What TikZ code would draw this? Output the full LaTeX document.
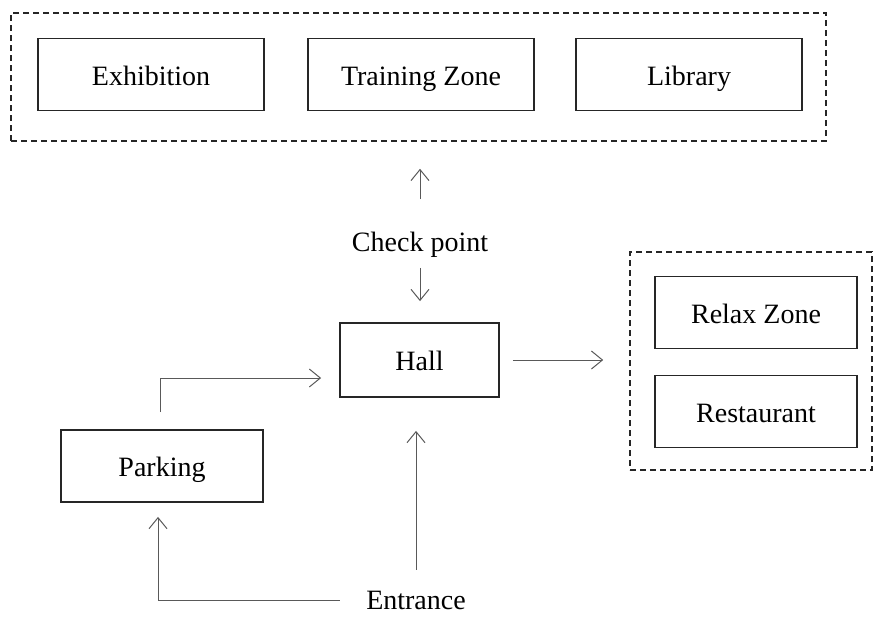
\documentclass[tikz,border=0pt]{standalone}
\usepackage{fontspec}
\setmainfont{Liberation Serif}
\usetikzlibrary{arrows.meta}

\tikzset{
    room/.style={draw=black!85, line width=0.9pt, minimum height=36pt, text height=11pt, text depth=0.5pt, font=\fontsize{14}{16}\selectfont},
    zone/.style={draw=black!85, line width=0.8pt, dash pattern=on 3pt off 2pt},
    waytext/.style={font=\fontsize{14}{16}\selectfont},
    flow/.style={draw=black!65, line width=0.5pt, -{Straight Barb[length=5.5pt,width=9pt]}},
}

\begin{document}
\begin{tikzpicture}[x=0.5pt, y=-0.5pt]
    \useasboundingbox (0,0) rectangle (876,616);

    % dashed zones
    \node[zone, minimum width=407.5pt, minimum height=64pt] (upper) at (418.5, 77) {};
    \node[zone, minimum width=121pt, minimum height=109pt] (side) at (751, 361) {};

    \node[room, minimum width=113pt] (exhibition) at (151, 74.5) {Exhibition};
    \node[room, minimum width=113pt] (training) at (421, 74.5) {Training Zone};
    \node[room, minimum width=113pt] (library) at (689, 74.5) {Library};
    \node[room, minimum width=79.5pt, minimum height=37pt] (hall) at (419.5, 360) {Hall};
    \node[room, minimum width=101pt] (relax) at (756, 312.5) {Relax Zone};
    \node[room, minimum width=101pt] (restaurant) at (756, 411.5) {Restaurant};
    \node[room, minimum width=101pt] (parking) at (162, 466) {Parking};
    \node[waytext] (check) at (420, 245) {Check point};
    \node[waytext] (entrance) at (416, 600) {Entrance};

    \draw[flow, shorten <=13pt, shorten >=13.5pt] (check.north) -- (check.north |- upper.south);
    \draw[flow, shorten <=1.5pt, shorten >=10.5pt] (check.south) -- (check.south |- hall.north);
    \draw[flow, shorten <=6.5pt, shorten >=13pt] (hall.east) -- (hall.east -| side.west);
    \draw[flow, shorten <=8.5pt, shorten >=9pt] ([xshift=-1pt]parking.north) |- ([yshift=-9pt]hall.west);
    \draw[flow, shorten <=7pt, shorten >=16.5pt] (entrance.north) -- (entrance.north |- hall.south);
    \draw[flow, shorten <=9.75pt, shorten >=7pt] (entrance.west) -| ([xshift=-2pt]parking.south);
\end{tikzpicture}
\end{document}
